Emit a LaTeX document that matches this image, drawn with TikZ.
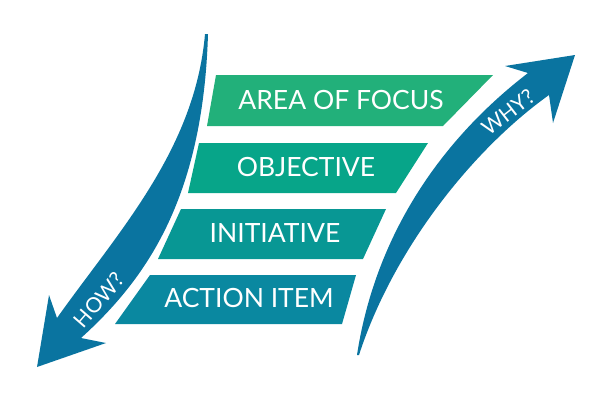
\documentclass[tikz,border=0pt]{standalone}
\usepackage{fontspec}
\setmainfont{Lato}
\usepackage{tikz}
\usetikzlibrary{positioning,calc}
\definecolor{focusgreen}{RGB}{34,176,122}
\definecolor{objgreen}{RGB}{7,165,137}
\definecolor{initteal}{RGB}{8,151,148}
\definecolor{actionteal}{RGB}{10,136,160}
\definecolor{arrowblue}{RGB}{10,116,160}
\tikzset{
  bar/.style={fill=#1, draw=none},
  barlabel/.style={text=white, font=\fontsize{26.5}{26.5}\selectfont, inner sep=0pt},
  bigarrow/.style={fill=arrowblue, draw=none},
  arrowlabel/.style={text=white, font=\fontsize{21}{21}\selectfont, inner sep=0pt},
}
\begin{document}
\begin{tikzpicture}[x=1pt,y=-1pt]
\useasboundingbox (0,0) rectangle (600,400);
% the four levels
\fill[bar=focusgreen] (216,75) -- (493,75) -- (443,126) -- (207,126) -- cycle;
\fill[bar=objgreen] (199,143) -- (428,143) -- (396,193) -- (188,193) -- cycle;
\fill[bar=initteal] (181,209) -- (386,209) -- (363,259) -- (158,259) -- cycle;
\fill[bar=actionteal] (150,275) -- (356,275) -- (342,324) -- (115,324) -- cycle;
\node[barlabel] (focus) at (341,100) {AREA OF FOCUS};
\node[barlabel] (objective) at (306,167) {OBJECTIVE};
\node[barlabel] (initiative) at (275,233) {INITIATIVE};
\node[barlabel] (action) at (249,298) {ACTION ITEM};
% how? arrow, going down
\fill[bigarrow] (205,34) .. controls (195,150) and (118,232) .. (57,318)
  -- (49,295) -- (37,367) -- (106,343) -- (81,338)
  .. controls (145,280) and (203,200) .. (208,34) -- cycle;
\node[arrowlabel, rotate=49] (how) at (99,300) {HOW?};
% why? arrow, going up
\fill[bigarrow] (357,355) .. controls (373,250) and (428,150) .. (528,73)
  -- (505,66) -- (575,55) -- (553,123) -- (549,95)
  .. controls (472,150) and (393,250) .. (359,355) -- cycle;
\node[arrowlabel, rotate=38] (why) at (508,112) {WHY?};
\end{tikzpicture}
\end{document}
